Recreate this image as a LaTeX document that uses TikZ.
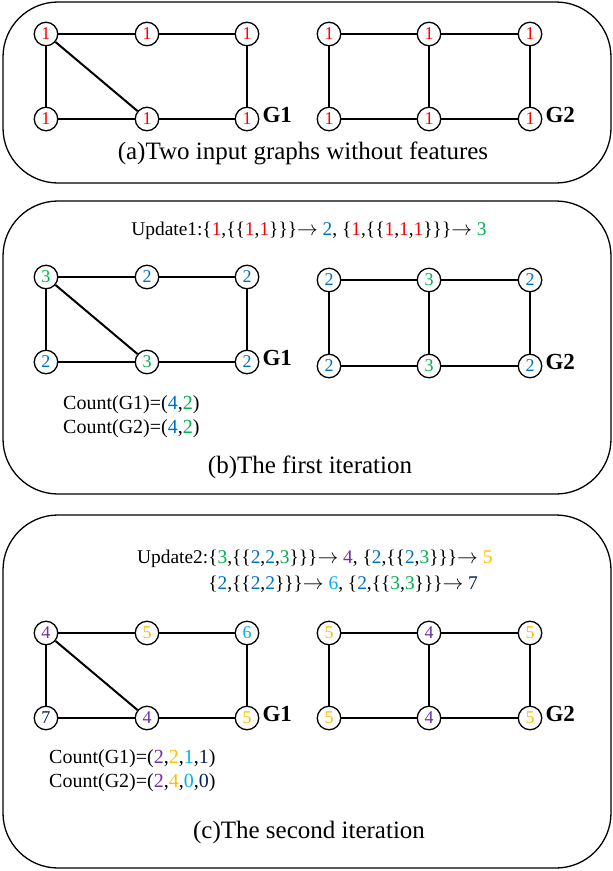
\documentclass[tikz,border=0pt]{standalone}
\usepackage{fontspec}
\setmainfont{Liberation Serif}
\definecolor{c1}{HTML}{FF0000}
\definecolor{c2}{HTML}{0070C0}
\definecolor{c3}{HTML}{00B050}
\definecolor{c4}{HTML}{7030A0}
\definecolor{c5}{HTML}{FFC000}
\definecolor{c6}{HTML}{00B0F0}
\definecolor{c7}{HTML}{002060}
\tikzset{
  vtx/.style={circle, draw, line width=1.3pt, fill=white, minimum size=23.5pt, inner sep=0pt, font=\fontsize{18}{18}\selectfont},
  gline/.style={line width=2pt},
  panel/.style={draw, line width=1.3pt, rounded corners=55pt},
  glabel/.style={font=\fontsize{23}{23}\selectfont\bfseries, anchor=west, inner sep=0pt},
  captxt/.style={font=\fontsize{25}{25}\selectfont, inner sep=0pt},
  txt/.style={font=\fontsize{20}{26}\selectfont, inner sep=0pt},
  updtxt/.style={font=\fontsize{19.4}{26}\selectfont, inner sep=0pt}
}
\newcommand\GraphOne[9]{%
  \node[vtx] (#1n1) at (46,#2) {\textcolor{c#4}{#4}};
  \node[vtx] (#1n2) at (147,#2) {\textcolor{c#5}{#5}};
  \node[vtx] (#1n3) at (247,#2) {\textcolor{c#6}{#6}};
  \node[vtx] (#1n4) at (46,#3) {\textcolor{c#7}{#7}};
  \node[vtx] (#1n5) at (147,#3) {\textcolor{c#8}{#8}};
  \node[vtx] (#1n6) at (247,#3) {\textcolor{c#9}{#9}};
  \draw[gline] (#1n1) -- (#1n2);
  \draw[gline] (#1n2) -- (#1n3);
  \draw[gline] (#1n3) -- (#1n6);
  \draw[gline] (#1n6) -- (#1n5);
  \draw[gline] (#1n5) -- (#1n4);
  \draw[gline] (#1n4) -- (#1n1);
  \draw[gline] (#1n1) -- (#1n5);
  \node[glabel] (#1lab) at ([xshift=3pt,yshift=4pt]#1n6.east) {G1};
}
\newcommand\GraphTwo[9]{%
  \node[vtx] (#1n1) at (329,#2) {\textcolor{c#4}{#4}};
  \node[vtx] (#1n2) at (429,#2) {\textcolor{c#5}{#5}};
  \node[vtx] (#1n3) at (530,#2) {\textcolor{c#6}{#6}};
  \node[vtx] (#1n4) at (329,#3) {\textcolor{c#7}{#7}};
  \node[vtx] (#1n5) at (429,#3) {\textcolor{c#8}{#8}};
  \node[vtx] (#1n6) at (530,#3) {\textcolor{c#9}{#9}};
  \draw[gline] (#1n1) -- (#1n2);
  \draw[gline] (#1n2) -- (#1n3);
  \draw[gline] (#1n3) -- (#1n6);
  \draw[gline] (#1n6) -- (#1n5);
  \draw[gline] (#1n5) -- (#1n4);
  \draw[gline] (#1n4) -- (#1n1);
  \draw[gline] (#1n2) -- (#1n5);
  \node[glabel] (#1lab) at ([xshift=3pt,yshift=4pt]#1n6.east) {G2};
}
\newcommand\cn[1]{\textcolor{c#1}{#1}}
\newcommand\arr{\ensuremath{\rightarrow}}
\begin{document}
\begin{tikzpicture}[x=1pt,y=-1pt]
\useasboundingbox (0,0) rectangle (613,871);
% panels
\draw[panel] (3,2) rectangle (611,183);
\draw[panel] (3,201) rectangle (611,494);
\draw[panel] (3,515) rectangle (611,868);
% (a)
\GraphOne{a}{34}{119}{1}{1}{1}{1}{1}{1}
\GraphTwo{A}{34}{119}{1}{1}{1}{1}{1}{1}
\node[captxt] (capa) at (303,153) {(a)Two input graphs without features};
% (b)
\node[updtxt] (upd1) at (309,231) {Update1:\{\cn{1},\{\{\cn{1},\cn{1}\}\}\}\arr{} \cn{2}, \{\cn{1},\{\{\cn{1},\cn{1},\cn{1}\}\}\}\arr{} \cn{3}};
\GraphOne{b}{277}{362}{3}{2}{2}{2}{3}{2}
\GraphTwo{B}{280}{366}{2}{3}{2}{2}{3}{2}
\node[txt, anchor=west] (cntb1) at (63,405) {Count(G1)=(\textcolor{c2}{4},\textcolor{c3}{2})};
\node[txt, anchor=west] (cntb2) at (63,429) {Count(G2)=(\textcolor{c2}{4},\textcolor{c3}{2})};
\node[captxt] (capb) at (310,467) {(b)The first iteration};
% (c)
\node[updtxt, anchor=west] (upd2) at (137,571) {\begin{tabular}{@{}r@{}l@{}}Update2:&\{\cn{3},\{\{\cn{2},\cn{2},\cn{3}\}\}\}\arr{} \cn{4}, \{\cn{2},\{\{\cn{2},\cn{3}\}\}\}\arr{} \cn{5}\\
&\{\cn{2},\{\{\cn{2},\cn{2}\}\}\}\arr{} \cn{6}, \{\cn{2},\{\{\cn{3},\cn{3}\}\}\}\arr{} \cn{7}\end{tabular}};
\GraphOne{c}{633}{718}{4}{5}{6}{7}{4}{5}
\GraphTwo{C}{633}{718}{5}{4}{5}{5}{4}{5}
\node[txt, anchor=west] (cntc1) at (49,759) {Count(G1)=(\textcolor{c4}{2},\textcolor{c5}{2},\textcolor{c6}{1},\textcolor{c7}{1})};
\node[txt, anchor=west] (cntc2) at (49,783) {Count(G2)=(\textcolor{c4}{2},\textcolor{c5}{4},\textcolor{c6}{0},\textcolor{c7}{0})};
\node[captxt] (capc) at (309,832) {(c)The second iteration};
\end{tikzpicture}
\end{document}
